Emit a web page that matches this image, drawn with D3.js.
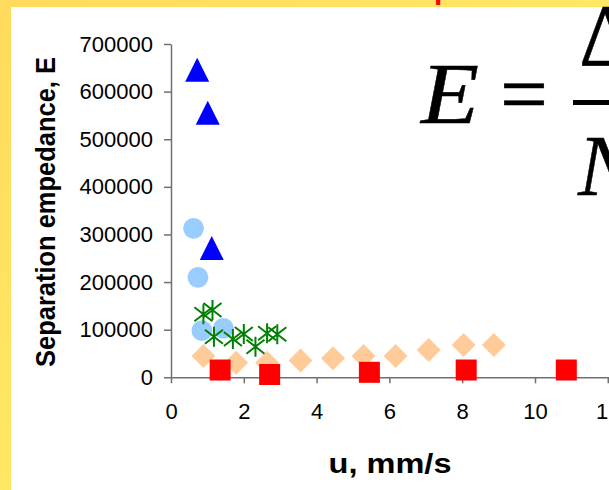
<!DOCTYPE html>
<html>
<head>
<meta charset="utf-8">
<script src="https://cdn.jsdelivr.net/npm/d3@7"></script>
<style>
  body { margin: 0; padding: 0; overflow: hidden; }
  svg { display: block; }
  .axis text { font-family: "Liberation Sans", Arial, sans-serif; fill: #000; }
  .formula { font-family: "Liberation Serif", "Times New Roman", serif; fill: #000; stroke: #000; stroke-width: 0.5px; }
</style>
</head>
<body>
<svg id="chart" width="609" height="490"></svg>
<script>
// series: u (mm/s) and E
const triU = [0.72, 1.01, 1.12];
const triE = [646000, 555700, 271500];

const circU = [0.62, 0.74, 0.85, 1.44];
const circE = [312900, 210000, 97900, 102900];

const starU = [0.89, 1.14, 1.18, 1.70, 2.00, 2.32, 2.64, 2.92];
const starE = [132300, 141300, 85300, 80400, 90900, 64300, 92400, 90300];

const diaU = [0.89, 1.79, 2.64, 3.56, 4.45, 5.29, 6.17, 7.08, 8.04, 8.87];
const diaE = [44700, 30700, 30700, 35300, 39900, 44700, 44700, 57300, 67800, 67800];

const sqU = [1.35, 2.71, 5.45, 8.11, 10.86];
const sqE = [15300, 5900, 10500, 15300, 15300];

const xTicks = [0, 2, 4, 6, 8, 10, 12];
const yTicks = [0, 100000, 200000, 300000, 400000, 500000, 600000, 700000];

const svg = d3.select("#chart");

// yellow frame
const defs = svg.append("defs");
const grad = defs.append("linearGradient")
    .attr("id", "frame")
    .attr("x1", 0).attr("y1", 0).attr("x2", 1).attr("y2", 1);
grad.append("stop").attr("offset", "0%").attr("stop-color", "#ffda5d");
grad.append("stop").attr("offset", "100%").attr("stop-color", "#fff66a");

svg.append("rect").attr("width", 609).attr("height", 490).attr("fill", "url(#frame)");
svg.append("rect").attr("x", 11).attr("y", 7).attr("width", 598).attr("height", 483).attr("fill", "#fff");

// bit of the red title that sticks in from above
svg.append("text")
    .attr("x", 434).attr("y", -1)
    .style("font-family", "Liberation Sans, Arial, sans-serif")
    .style("font-weight", "bold")
    .style("font-size", "30px")
    .attr("fill", "#ff0000")
    .text("p");

const x = d3.scaleLinear().domain([0, 12]).range([171, 607.8]);
const y = d3.scaleLinear().domain([0, 700000]).range([377.3, 44]);

// axes
const xAxis = svg.append("g")
    .attr("class", "axis")
    .attr("transform", `translate(0,${y(0)})`)
    .call(d3.axisBottom(x).tickValues(xTicks).tickSize(6).tickSizeOuter(0).tickPadding(20));

const yAxis = svg.append("g")
    .attr("class", "axis")
    .attr("transform", `translate(${x(0)},0)`)
    .call(d3.axisLeft(y).tickValues(yTicks).tickFormat(d3.format("d")).tickSize(7).tickSizeOuter(0).tickPadding(11));

svg.selectAll(".axis text").style("font-size", "22px");
svg.selectAll(".axis path, .axis line").attr("stroke", "#707070").attr("stroke-width", 1.5);
xAxis.select(".domain").attr("d", `M${x(0)},0.5H609`);

// axis titles
svg.append("text")
    .attr("transform", "translate(55,212) rotate(-90)")
    .attr("text-anchor", "middle")
    .attr("textLength", 310)
    .attr("lengthAdjust", "spacingAndGlyphs")
    .style("font-family", "Liberation Sans, Arial, sans-serif")
    .style("font-weight", "bold")
    .style("font-size", "27px")
    .text("Separation empedance, E");

svg.append("text")
    .attr("x", 390).attr("y", 473)
    .attr("text-anchor", "middle")
    .attr("textLength", 123)
    .attr("lengthAdjust", "spacingAndGlyphs")
    .style("font-family", "Liberation Sans, Arial, sans-serif")
    .style("font-weight", "bold")
    .style("font-size", "27px")
    .text("u, mm/s");

// formula, cut off at the right edge
const formula = svg.append("g").attr("class", "formula");
formula.append("text")
    .attr("x", 421).attr("y", 123)
    .attr("textLength", 58).attr("lengthAdjust", "spacingAndGlyphs")
    .style("font-style", "italic").style("font-size", "86px")
    .text("E");
formula.append("text")
    .attr("x", 500).attr("y", 123)
    .style("font-size", "85px")
    .text("=");
formula.append("line")
    .attr("x1", 573).attr("x2", 620).attr("y1", 102.5).attr("y2", 102.5)
    .attr("stroke-width", 5);
formula.append("text")
    .attr("x", 579).attr("y", 65)
    .style("font-size", "88px")
    .text("Δ");
formula.append("text")
    .attr("x", 578).attr("y", 195)
    .style("font-style", "italic").style("font-size", "86px")
    .text("N");

// marks
const pts = (us, es) => us.map((u, i) => ({ u: u, e: es[i] }));
const marks = svg.append("g");

marks.selectAll(".dia").data(pts(diaU, diaE)).enter().append("path")
    .attr("class", "dia")
    .attr("transform", d => `translate(${x(d.u)},${y(d.e)})`)
    .attr("d", "M0,-12L12,0L0,12L-12,0Z")
    .attr("fill", "#ffcc99");

marks.selectAll(".circ").data(pts(circU, circE)).enter().append("circle")
    .attr("class", "circ")
    .attr("cx", d => x(d.u)).attr("cy", d => y(d.e))
    .attr("r", 10.4)
    .attr("fill", "#99ccff");

marks.selectAll(".tri").data(pts(triU, triE)).enter().append("path")
    .attr("class", "tri")
    .attr("transform", d => `translate(${x(d.u)},${y(d.e)})`)
    .attr("d", "M0,-12L12,12L-12,12Z")
    .attr("fill", "#0000ff");

marks.selectAll(".star").data(pts(starU, starE)).enter().append("path")
    .attr("class", "star")
    .attr("transform", d => `translate(${x(d.u)},${y(d.e)})`)
    .attr("d", "M0,-10V10M-9,-7L9,7M-9,7L9,-7")
    .attr("stroke", "#008000")
    .attr("stroke-width", 2)
    .attr("fill", "none");

marks.selectAll(".sq").data(pts(sqU, sqE)).enter().append("rect")
    .attr("class", "sq")
    .attr("x", d => x(d.u) - 10.5).attr("y", d => y(d.e) - 10.5)
    .attr("width", 21).attr("height", 21)
    .attr("fill", "#ff0000");
</script>
</body>
</html>
